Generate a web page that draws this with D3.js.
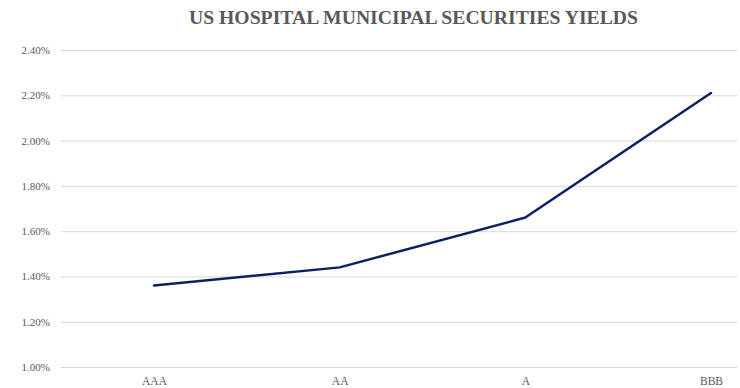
<!DOCTYPE html>
<html>
<head>
<meta charset="utf-8">
<script src="https://cdn.jsdelivr.net/npm/d3@7"></script>
<style>
  html, body { margin: 0; padding: 0; background: #fff; }
  svg { display: block; }
</style>
</head>
<body>
<svg id="chart" width="740" height="388"></svg>
<script>
// Hospital muni yields by credit rating
const ratings = ["AAA", "AA", "A", "BBB"];
const yields = [1.36, 1.44, 1.66, 2.21];
const yTicks = [1.0, 1.2, 1.4, 1.6, 1.8, 2.0, 2.2, 2.4];
const chartTitle = "US HOSPITAL MUNICIPAL SECURITIES YIELDS";

const svg = d3.select("#chart");
const grid = { left: 61, right: 737, top: 50, bottom: 367 };
const font = "'Liberation Serif', 'Times New Roman', serif";

const x = d3.scalePoint().domain(ratings).range([154, 711]);
const y = d3.scaleLinear().domain([1.0, 2.4]).range([grid.bottom, grid.top]);

// title
svg.append("text")
  .attr("x", 413.5).attr("y", 24)
  .attr("text-anchor", "middle")
  .attr("font-family", font)
  .attr("font-weight", "bold")
  .attr("font-size", 19.5)
  .attr("textLength", 449)
  .attr("lengthAdjust", "spacingAndGlyphs")
  .attr("fill", "#595959")
  .text(chartTitle);

// horizontal gridlines + y labels
const yAxis = d3.axisLeft(y)
  .tickValues(yTicks)
  .tickSize(-(grid.right - grid.left))
  .tickPadding(11)
  .tickFormat(d => d.toFixed(2) + "%");

const gy = svg.append("g")
  .attr("transform", `translate(${grid.left},0)`)
  .call(yAxis)
  .attr("font-family", font);
gy.select(".domain").remove();
gy.selectAll(".tick line").attr("stroke", "#d9d9d9").attr("stroke-width", 1);
gy.selectAll(".tick text")
  .style("font-family", font)
  .attr("font-size", 11)
  .attr("fill", "#595959");

// category labels
const xAxis = d3.axisBottom(x).tickSize(0).tickPadding(10);
const gx = svg.append("g")
  .attr("transform", `translate(0,${grid.bottom})`)
  .call(xAxis)
  .attr("font-family", font);
gx.select(".domain").remove();
gx.selectAll(".tick text")
  .style("font-family", font)
  .attr("font-size", 11.5)
  .attr("fill", "#595959");

// yield line
const line = d3.line()
  .x((d, i) => x(ratings[i]))
  .y(d => y(d));

svg.append("path")
  .datum(yields)
  .attr("d", line)
  .attr("fill", "none")
  .attr("stroke", "#0a2260")
  .attr("stroke-width", 2.5)
  .attr("stroke-linejoin", "round")
  .attr("stroke-linecap", "round");
</script>
</body>
</html>
